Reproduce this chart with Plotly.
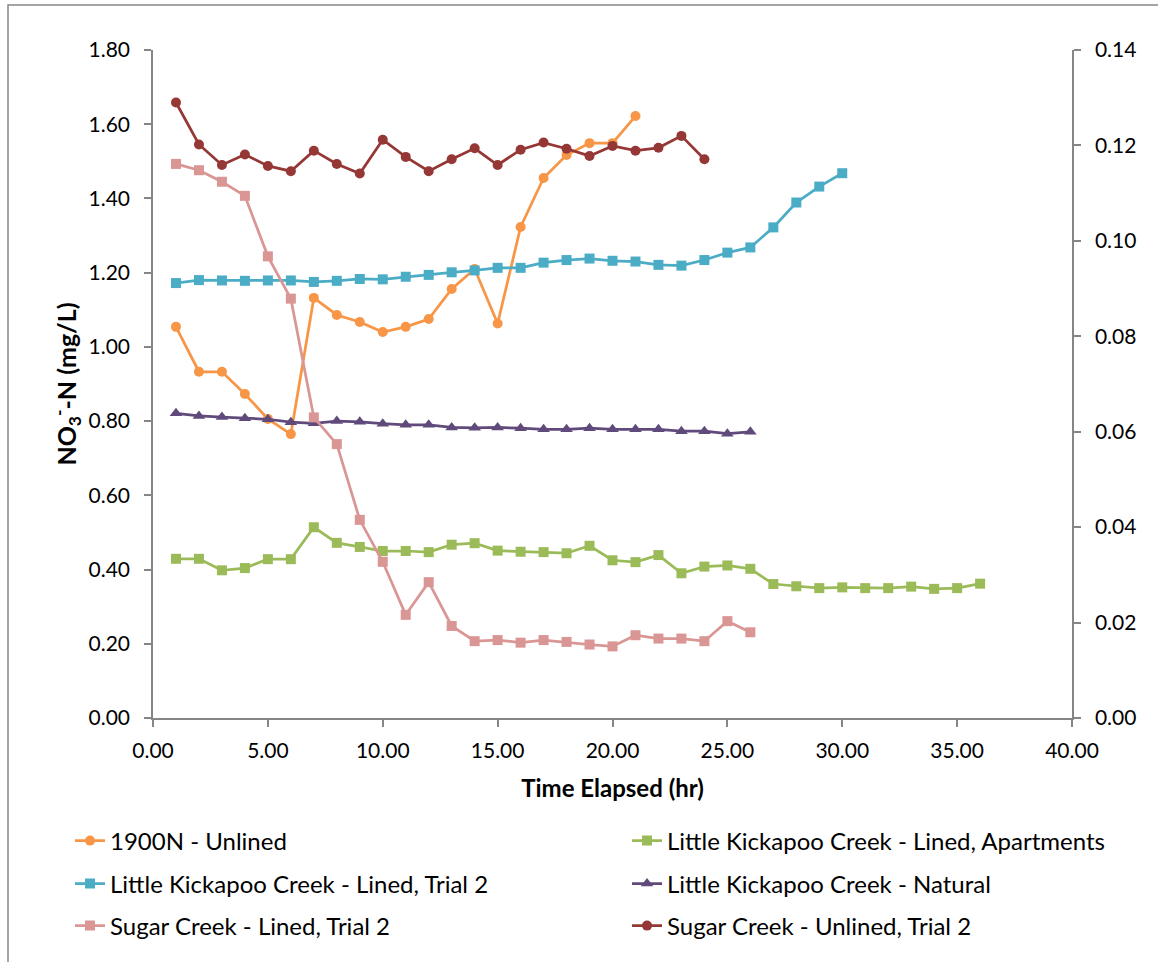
import plotly.graph_objects as go

# ---- data ----
hours_1900 = [1, 2, 3, 4, 5, 6, 7, 8, 9, 10, 11, 12, 13, 14, 15, 16, 17, 18, 19, 20, 21]
no3_1900 = [1.054, 0.933, 0.933, 0.873, 0.806, 0.765, 1.132, 1.086, 1.067, 1.040, 1.054,
            1.075, 1.156, 1.210, 1.063, 1.323, 1.455, 1.517, 1.549, 1.549, 1.622]

hours_lkc_apt = [1, 2, 3, 4, 5, 6, 7, 8, 9, 10, 11, 12, 13, 14, 15, 16, 17, 18, 19, 20,
                 21, 22, 23, 24, 25, 26, 27, 28, 29, 30, 31, 32, 33, 34, 35, 36]
no3_lkc_apt = [0.429, 0.429, 0.398, 0.404, 0.428, 0.428, 0.514, 0.472, 0.461, 0.450, 0.450,
               0.447, 0.467, 0.471, 0.451, 0.448, 0.447, 0.444, 0.464, 0.425, 0.420, 0.439,
               0.390, 0.408, 0.411, 0.402, 0.361, 0.355, 0.350, 0.352, 0.350, 0.350, 0.354,
               0.348, 0.350, 0.362]

hours_lkc_t2 = [1, 2, 3, 4, 5, 6, 7, 8, 9, 10, 11, 12, 13, 14, 15, 16, 17, 18, 19, 20,
                21, 22, 23, 24, 25, 26, 27, 28, 29, 30]
no3_lkc_t2 = [1.172, 1.180, 1.179, 1.178, 1.179, 1.179, 1.175, 1.178, 1.183, 1.182, 1.189,
              1.194, 1.201, 1.206, 1.213, 1.213, 1.227, 1.234, 1.238, 1.232, 1.230, 1.221,
              1.219, 1.234, 1.254, 1.268, 1.322, 1.389, 1.432, 1.468]

hours_lkc_nat = [1, 2, 3, 4, 5, 6, 7, 8, 9, 10, 11, 12, 13, 14, 15, 16, 17, 18, 19, 20,
                 21, 22, 23, 24, 25, 26]
no3_lkc_nat = [0.821, 0.814, 0.811, 0.808, 0.805, 0.797, 0.794, 0.800, 0.798, 0.793, 0.790,
               0.790, 0.783, 0.782, 0.783, 0.781, 0.778, 0.778, 0.781, 0.778, 0.778, 0.778,
               0.773, 0.773, 0.766, 0.771]

hours_sc_lined = [1, 2, 3, 4, 5, 6, 7, 8, 9, 10, 11, 12, 13, 14, 15, 16, 17, 18, 19, 20,
                  21, 22, 23, 24, 25, 26]
no3_sc_lined = [1.493, 1.476, 1.445, 1.407, 1.244, 1.130, 0.810, 0.738, 0.534, 0.421, 0.278,
                0.366, 0.248, 0.207, 0.210, 0.203, 0.210, 0.205, 0.198, 0.193, 0.223, 0.214,
                0.214, 0.207, 0.261, 0.231]

# plotted against the secondary (right) axis
hours_sc_unlined = [1, 2, 3, 4, 5, 6, 7, 8, 9, 10, 11, 12, 13, 14, 15, 16, 17, 18, 19, 20,
                    21, 22, 23, 24]
no3_sc_unlined = [0.1290, 0.1202, 0.1159, 0.1181, 0.1157, 0.1146, 0.1189, 0.1161, 0.1141,
                  0.1212, 0.1176, 0.1146, 0.1171, 0.1194, 0.1159, 0.1191, 0.1206, 0.1193,
                  0.1178, 0.1199, 0.1189, 0.1195, 0.1220, 0.1171]

FONT = "Lato"
W, H = 1158, 962
L, R, T, B = 153, 86, 50, 244
PW, PH = W - L - R, H - T - B


def px_x(px):
    return (px - L) / PW


def px_y(py):
    return (H - B - py) / PH


series = [
    ("1900N - Unlined", hours_1900, no3_1900, "#F79646", "circle", 10, "y", "legend"),
    ("Little Kickapoo Creek - Lined, Apartments", hours_lkc_apt, no3_lkc_apt, "#9BBB59", "square", 10, "y", "legend2"),
    ("Little Kickapoo Creek - Lined, Trial 2", hours_lkc_t2, no3_lkc_t2, "#4BACC6", "square", 10, "y", "legend3"),
    ("Little Kickapoo Creek - Natural", hours_lkc_nat, no3_lkc_nat, "#604A7B", "triangle-up", 11, "y", "legend4"),
    ("Sugar Creek - Lined, Trial 2", hours_sc_lined, no3_sc_lined, "#D99694", "square", 10, "y", "legend5"),
    ("Sugar Creek - Unlined, Trial 2", hours_sc_unlined, no3_sc_unlined, "#953735", "circle", 10, "y2", "legend6"),
]

fig = go.Figure()
for name, xs, ys, col, sym, sz, yax, leg in series:
    fig.add_trace(go.Scatter(
        x=xs, y=ys, name=name, mode="lines+markers", yaxis=yax, legend=leg,
        line=dict(color=col, width=2.75),
        marker=dict(color=col, symbol=sym, size=sz),
        showlegend=True,
    ))

TICK_SIZE = 21
axis_common = dict(showline=True, linecolor="#868686", linewidth=1.5, ticks="outside",
                   tickcolor="#868686", tickwidth=1.5, ticklen=7, showgrid=False,
                   zeroline=False, tickfont=dict(family=FONT, size=TICK_SIZE, color="black"))

fig.update_layout(
    width=W, height=H, showlegend=True,
    margin=dict(l=L, r=R, t=T, b=B, autoexpand=False),
    paper_bgcolor="white", plot_bgcolor="white",
    font=dict(family=FONT, color="black"),
    xaxis=dict(range=[0, 40], dtick=5, tickformat=".2f", ticklabelstandoff=6,
               title=dict(text="<b>Time Elapsed (hr)</b>", font=dict(family=FONT, size=24), standoff=19),
               **axis_common),
    yaxis=dict(range=[0, 1.8], dtick=0.2, tickformat=".2f", ticklabelstandoff=10,
               title=dict(text="<b>NO<sub>3</sub><sup>-</sup>-N (mg/L)</b>", font=dict(family=FONT, size=25), standoff=5),
               **axis_common),
    yaxis2=dict(range=[0, 0.14], dtick=0.02, tickformat=".2f", overlaying="y", side="right",
                ticklabelstandoff=10, **axis_common),
)

rows_y = [841, 884, 926]
cols_x = [70, 627]
legend_names = ["legend", "legend2", "legend3", "legend4", "legend5", "legend6"]
for i, ln in enumerate(legend_names):
    r, c = divmod(i, 2)
    fig.update_layout({ln: dict(x=px_x(cols_x[c]), y=px_y(rows_y[r]), xanchor="left", yanchor="middle",
                                bgcolor="rgba(0,0,0,0)", borderwidth=0, visible=True,
                                font=dict(family=FONT, size=24, color="black"))})

# chart-area border
fig.add_shape(type="rect", xref="paper", yref="paper",
              x0=px_x(8), x1=px_x(1170), y0=px_y(975), y1=px_y(5),
              line=dict(color="#868686", width=1.5), fillcolor="rgba(0,0,0,0)", layer="below")

fig.write_html("out.html")
